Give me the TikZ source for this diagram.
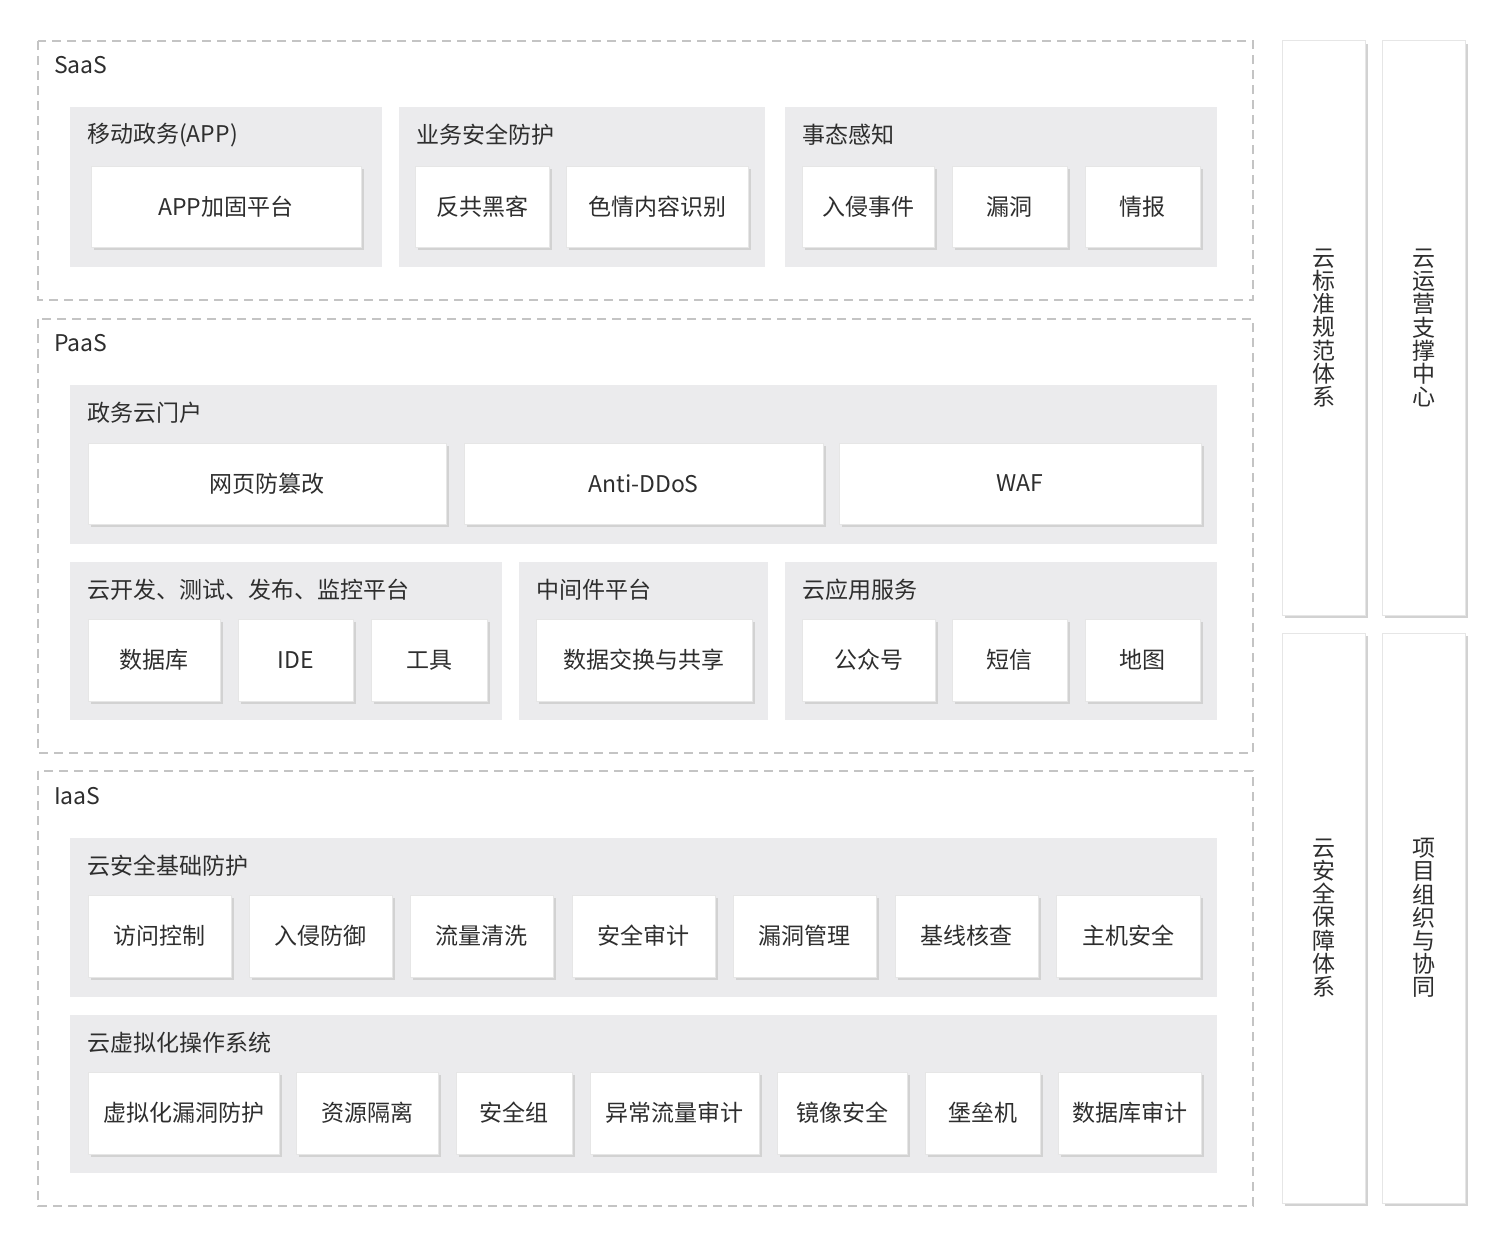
\documentclass[tikz,border=0pt]{standalone}
\usepackage{fontspec}
\setmainfont{Noto Sans CJK SC}
\usetikzlibrary{shadows}
\definecolor{txt}{HTML}{2E2E2E}
\definecolor{panelc}{HTML}{EBEBED}
\definecolor{dashc}{HTML}{C4C4C4}
\definecolor{borderc}{HTML}{E6E6E6}
\definecolor{shadowc}{HTML}{D2D2D2}
\tikzset{
  layer/.style={draw=dashc, line width=1.3pt, dash pattern=on 9pt off 6pt},
  panel/.style={fill=panelc, draw=none},
  wbox/.style={draw=borderc, fill=white, line width=1pt, inner sep=0pt, outer sep=0pt,
    text=txt, font=\fontsize{23}{27}\selectfont,
    general shadow={fill=shadowc, shadow xshift=3pt, shadow yshift=-3pt}},
  ttl/.style={anchor=west, inner sep=0pt, text=txt, font=\fontsize{23}{27}\selectfont},
  vtxt/.style={text=txt, font=\fontsize{23}{23.2}\selectfont, align=center, inner sep=0pt}
}
\newcommand\wb[6]{\node[wbox, minimum width={#4-#2}, minimum height={#5-#3}] (#1) at ({(#2+#4)/2},{(#3+#5)/2}) {#6};}
\newcommand\pnl[5]{\fill[panel] (#2,#3) rectangle (#4,#5); \coordinate (#1) at (#2,#3);}
\begin{document}
\begin{tikzpicture}[x=1pt,y=-1pt]
\useasboundingbox[fill=white] (0,0) rectangle (1498,1239);
% layers
\draw[layer] (38,41) rectangle (1253,300);
\node[ttl] (saas) at (54,65) {SaaS};
\draw[layer] (38,319) rectangle (1253,753);
\node[ttl] (paas) at (54,343) {PaaS};
\draw[layer] (38,771) rectangle (1253,1206);
\node[ttl] (iaas) at (54,796) {IaaS};
% SaaS panels
\pnl{p1}{70}{107}{382}{267}
\node[ttl] (t1) at (87,135) {移动政务(APP)};
\wb{b11}{91}{166}{361}{247}{APP加固平台}
\pnl{p2}{399}{107}{765}{267}
\node[ttl] (t2) at (416,135) {业务安全防护};
\wb{b21}{415}{166}{549}{247}{反共黑客}
\wb{b22}{566}{166}{748}{247}{色情内容识别}
\pnl{p3}{785}{107}{1217}{267}
\node[ttl] (t3) at (802,135) {事态感知};
\wb{b31}{802}{166}{934}{247}{入侵事件}
\wb{b32}{952}{166}{1067}{247}{漏洞}
\wb{b33}{1085}{166}{1200}{247}{情报}
% PaaS
\pnl{p4}{70}{385}{1217}{544}
\node[ttl] (t4) at (87,413) {政务云门户};
\wb{b41}{88}{443}{446}{524}{网页防篡改}
\wb{b42}{464}{443}{823}{524}{Anti-DDoS}
\wb{b43}{839}{443}{1201}{524}{WAF}
\pnl{p5}{70}{562}{502}{720}
\node[ttl] (t5) at (87,590) {云开发、测试、发布、监控平台};
\wb{b51}{88}{619}{220}{701}{数据库}
\wb{b52}{238}{619}{353}{701}{IDE}
\wb{b53}{371}{619}{487}{701}{工具}
\pnl{p6}{519}{562}{768}{720}
\node[ttl] (t6) at (536,590) {中间件平台};
\wb{b61}{536}{619}{752}{701}{数据交换与共享}
\pnl{p7}{785}{562}{1217}{720}
\node[ttl] (t7) at (802,590) {云应用服务};
\wb{b71}{802}{619}{935}{701}{公众号}
\wb{b72}{952}{619}{1067}{701}{短信}
\wb{b73}{1085}{619}{1200}{701}{地图}
% IaaS
\pnl{p8}{70}{838}{1217}{997}
\node[ttl] (t8) at (87,866) {云安全基础防护};
\wb{b81}{88}{895}{231}{977}{访问控制}
\wb{b82}{249}{895}{392}{977}{入侵防御}
\wb{b83}{410}{895}{553}{977}{流量清洗}
\wb{b84}{572}{895}{715}{977}{安全审计}
\wb{b85}{733}{895}{876}{977}{漏洞管理}
\wb{b86}{895}{895}{1038}{977}{基线核查}
\wb{b87}{1056}{895}{1200}{977}{主机安全}
\pnl{p9}{70}{1015}{1217}{1173}
\node[ttl] (t9) at (87,1043) {云虚拟化操作系统};
\wb{b91}{88}{1072}{279}{1154}{虚拟化漏洞防护}
\wb{b92}{296}{1072}{438}{1154}{资源隔离}
\wb{b93}{456}{1072}{572}{1154}{安全组}
\wb{b94}{590}{1072}{759}{1154}{异常流量审计}
\wb{b95}{777}{1072}{907}{1154}{镜像安全}
\wb{b96}{925}{1072}{1040}{1154}{堡垒机}
\wb{b97}{1058}{1072}{1201}{1154}{数据库审计}
% right columns
\wb{r1}{1282}{41}{1365}{615}{}
\wb{r2}{1382}{41}{1465}{615}{}
\wb{r3}{1282}{633}{1365}{1203}{}
\wb{r4}{1382}{633}{1465}{1203}{}
\node[vtxt] (r1t) at (r1.center) {云\\标\\准\\规\\范\\体\\系};
\node[vtxt] (r2t) at (r2.center) {云\\运\\营\\支\\撑\\中\\心};
\node[vtxt] (r3t) at (r3.center) {云\\安\\全\\保\\障\\体\\系};
\node[vtxt] (r4t) at (r4.center) {项\\目\\组\\织\\与\\协\\同};
\end{tikzpicture}
\end{document}
